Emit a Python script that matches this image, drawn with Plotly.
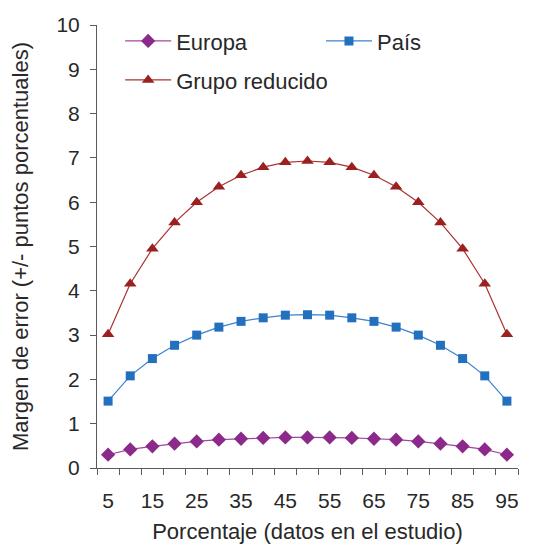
import plotly.graph_objects as go

# Porcentaje observado en el estudio
PERCENTAGES = [5, 10, 15, 20, 25, 30, 35, 40, 45, 50, 55, 60, 65, 70, 75, 80, 85, 90, 95]

# Margen de error (+/- puntos porcentuales)
EUROPA = [0.30, 0.42, 0.49, 0.55, 0.60, 0.64, 0.66, 0.68, 0.69, 0.69,
          0.69, 0.68, 0.66, 0.64, 0.60, 0.55, 0.49, 0.42, 0.30]
PAIS = [1.51, 2.08, 2.47, 2.77, 3.00, 3.18, 3.31, 3.39, 3.45, 3.46,
        3.45, 3.39, 3.31, 3.18, 3.00, 2.77, 2.47, 2.08, 1.51]
GRUPO = [3.02, 4.16, 4.95, 5.54, 6.00, 6.35, 6.61, 6.79, 6.90, 6.93,
         6.90, 6.79, 6.61, 6.35, 6.00, 5.54, 4.95, 4.16, 3.02]

X_LABELS = [5, 15, 25, 35, 45, 55, 65, 75, 85, 95]
X_BOUNDS = [2.5 + 5 * i for i in range(20)]
Y_TICKS = list(range(0, 11))

FONT = "Liberation Sans, Arial, sans-serif"
TEXT_COLOR = "rgb(40, 40, 40)"
AXIS_COLOR = "rgb(90, 90, 90)"
PURPLE = "rgb(140, 42, 140)"
BLUE = "rgb(35, 112, 190)"
RED = "rgb(155, 33, 33)"

fig = go.Figure()

fig.add_trace(go.Scatter(
    x=PERCENTAGES, y=EUROPA, name="Europa", mode="lines+markers",
    line={"color": "rgb(160, 70, 160)", "width": 1.2},
    marker={"symbol": "diamond", "size": 11, "color": PURPLE},
    legend="legend",
))
fig.add_trace(go.Scatter(
    x=PERCENTAGES, y=PAIS, name="País", mode="lines+markers",
    line={"color": "rgb(60, 130, 205)", "width": 1.2},
    marker={"symbol": "square", "size": 9, "color": BLUE},
    legend="legend2",
))
fig.add_trace(go.Scatter(
    x=PERCENTAGES, y=GRUPO, name="Grupo reducido", mode="lines+markers",
    line={"color": "rgb(170, 50, 50)", "width": 1.2},
    marker={"symbol": "triangle-up", "size": 11, "color": RED},
    legend="legend3",
))

legend_style = {
    "orientation": "v",
    "xanchor": "left",
    "yanchor": "top",
    "font": {"family": FONT, "size": 22, "color": TEXT_COLOR},
    "bgcolor": "rgba(0,0,0,0)",
    "borderwidth": 0,
    "itemwidth": 46,
}

fig.update_layout(
    width=530,
    height=536,
    margin={"l": 89, "r": 20, "t": 15, "b": 76},
    paper_bgcolor="white",
    plot_bgcolor="white",
    font={"family": FONT, "size": 21, "color": TEXT_COLOR},
    showlegend=True,
    legend={**legend_style, "x": 0.055, "y": 1.011},
    legend2={**legend_style, "x": 0.532, "y": 1.011},
    legend3={**legend_style, "x": 0.055, "y": 0.923},
)

fig.update_xaxes(
    range=[2.5, 97.5],
    tickmode="array",
    tickvals=X_LABELS,
    ticktext=[str(v) for v in X_LABELS],
    ticks="outside",
    ticklen=6,
    tickcolor="rgba(0,0,0,0)",
    ticklabelstandoff=8,
    tickfont={"size": 21},
    minor={"tickmode": "array", "tickvals": X_BOUNDS, "ticks": "outside",
           "ticklen": 6, "tickcolor": AXIS_COLOR, "showgrid": False},
    showline=True,
    linecolor=AXIS_COLOR,
    linewidth=1,
    showgrid=False,
    zeroline=False,
    automargin=False,
    title={"text": "Porcentaje (datos en el estudio)", "standoff": 16,
           "font": {"size": 22}},
)

fig.update_yaxes(
    range=[0, 10],
    tickmode="array",
    tickvals=Y_TICKS,
    ticks="outside",
    ticklen=6,
    tickcolor=AXIS_COLOR,
    ticklabelstandoff=6,
    tickfont={"size": 21},
    showline=True,
    linecolor=AXIS_COLOR,
    linewidth=1,
    showgrid=False,
    zeroline=False,
    automargin=False,
    title={"text": "Margen de error (+/- puntos porcentuales)", "standoff": 22,
           "font": {"size": 22}},
)

fig.write_html("out.html")
